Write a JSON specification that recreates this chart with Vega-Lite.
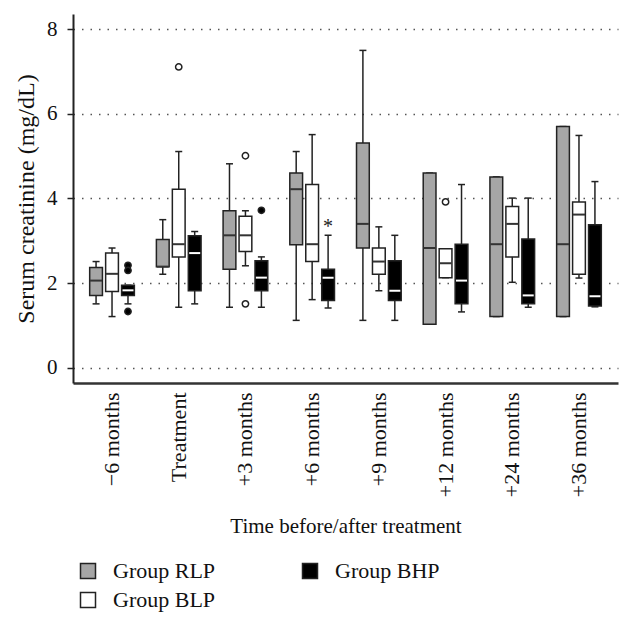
{
  "$schema": "https://vega.github.io/schema/vega-lite/v6.json",
  "width": 545,
  "height": 369,
  "autosize": "none",
  "padding": {"left": 73, "top": 14, "right": 14, "bottom": 242},
  "background": "white",
  "config": {
    "font": "Liberation Serif",
    "view": {"stroke": null}
  },
  "datasets": {
    "boxes": [
      {"time": "−6 months", "group": "Group RLP", "lower": 1.51, "q1": 1.71, "median": 2.06, "q3": 2.37, "upper": 2.51},
      {"time": "−6 months", "group": "Group BLP", "lower": 1.21, "q1": 1.80, "median": 2.22, "q3": 2.71, "upper": 2.83},
      {"time": "−6 months", "group": "Group BHP", "lower": 1.51, "q1": 1.71, "median": 1.83, "q3": 1.95, "upper": 1.95},
      {"time": "Treatment", "group": "Group RLP", "lower": 2.21, "q1": 2.39, "median": 2.39, "q3": 3.03, "upper": 3.50},
      {"time": "Treatment", "group": "Group BLP", "lower": 1.43, "q1": 2.62, "median": 2.92, "q3": 4.22, "upper": 5.11},
      {"time": "Treatment", "group": "Group BHP", "lower": 1.51, "q1": 1.82, "median": 2.71, "q3": 3.12, "upper": 3.22},
      {"time": "+3 months", "group": "Group RLP", "lower": 1.43, "q1": 2.33, "median": 3.13, "q3": 3.71, "upper": 4.82},
      {"time": "+3 months", "group": "Group BLP", "lower": 2.41, "q1": 2.75, "median": 3.13, "q3": 3.58, "upper": 3.71},
      {"time": "+3 months", "group": "Group BHP", "lower": 1.43, "q1": 1.82, "median": 2.13, "q3": 2.53, "upper": 2.62},
      {"time": "+6 months", "group": "Group RLP", "lower": 1.12, "q1": 2.91, "median": 4.22, "q3": 4.60, "upper": 5.11},
      {"time": "+6 months", "group": "Group BLP", "lower": 1.61, "q1": 2.51, "median": 2.92, "q3": 4.33, "upper": 5.51},
      {"time": "+6 months", "group": "Group BHP", "lower": 1.41, "q1": 1.59, "median": 2.13, "q3": 2.33, "upper": 3.13},
      {"time": "+9 months", "group": "Group RLP", "lower": 1.12, "q1": 2.83, "median": 3.40, "q3": 5.31, "upper": 7.50},
      {"time": "+9 months", "group": "Group BLP", "lower": 1.82, "q1": 2.21, "median": 2.51, "q3": 2.83, "upper": 3.33},
      {"time": "+9 months", "group": "Group BHP", "lower": 1.12, "q1": 1.59, "median": 1.82, "q3": 2.53, "upper": 3.13},
      {"time": "+12 months", "group": "Group RLP", "lower": 1.03, "q1": 1.03, "median": 2.83, "q3": 4.60, "upper": 4.60},
      {"time": "+12 months", "group": "Group BLP", "lower": 2.13, "q1": 2.13, "median": 2.47, "q3": 2.81, "upper": 2.81},
      {"time": "+12 months", "group": "Group BHP", "lower": 1.32, "q1": 1.51, "median": 2.06, "q3": 2.92, "upper": 4.33},
      {"time": "+24 months", "group": "Group RLP", "lower": 1.21, "q1": 1.21, "median": 2.92, "q3": 4.51, "upper": 4.51},
      {"time": "+24 months", "group": "Group BLP", "lower": 2.02, "q1": 2.62, "median": 3.40, "q3": 3.81, "upper": 4.01},
      {"time": "+24 months", "group": "Group BHP", "lower": 1.43, "q1": 1.51, "median": 1.71, "q3": 3.04, "upper": 4.01},
      {"time": "+36 months", "group": "Group RLP", "lower": 1.21, "q1": 1.21, "median": 2.92, "q3": 5.70, "upper": 5.70},
      {"time": "+36 months", "group": "Group BLP", "lower": 2.12, "q1": 2.21, "median": 3.62, "q3": 3.92, "upper": 5.49},
      {"time": "+36 months", "group": "Group BHP", "lower": 1.44, "q1": 1.46, "median": 1.69, "q3": 3.38, "upper": 4.40}
    ],
    "outliers": [
      {"time": "−6 months", "group": "Group BHP", "value": 2.42},
      {"time": "−6 months", "group": "Group BHP", "value": 2.30},
      {"time": "−6 months", "group": "Group BHP", "value": 1.33},
      {"time": "Treatment", "group": "Group BLP", "value": 7.11},
      {"time": "+3 months", "group": "Group BLP", "value": 5.01},
      {"time": "+3 months", "group": "Group BLP", "value": 1.51},
      {"time": "+3 months", "group": "Group BHP", "value": 3.72},
      {"time": "+12 months", "group": "Group BLP", "value": 3.92}
    ],
    "notes": [
      {"time": "+6 months", "group": "Group BHP", "value": 3.42, "label": "*"}
    ]
  },
  "encoding": {
    "x": {
      "field": "time",
      "type": "nominal",
      "sort": ["−6 months", "Treatment", "+3 months", "+6 months", "+9 months", "+12 months", "+24 months", "+36 months"],
      "scale": {
        "domain": ["−6 months", "Treatment", "+3 months", "+6 months", "+9 months", "+12 months", "+24 months", "+36 months"],
        "paddingInner": 0,
        "paddingOuter": 0.085
      },
      "axis": {
        "title": "Time before/after treatment",
        "labelAngle": -90,
        "labelAlign": "right",
        "labelBaseline": "middle",
        "labelFontSize": 22,
        "labelPadding": 9,
        "labelColor": "#111",
        "ticks": false,
        "tickSize": 0,
        "domainColor": "#333",
        "domainWidth": 2.5,
        "titleFontSize": 21,
        "titleFontWeight": "normal",
        "titleColor": "#111",
        "titlePadding": 19
      }
    },
    "xOffset": {
      "field": "group",
      "type": "nominal",
      "sort": ["Group RLP", "Group BLP", "Group BHP"],
      "scale": {
        "domain": ["Group RLP", "Group BLP", "Group BHP"],
        "paddingInner": 0.2,
        "paddingOuter": 0.69
      }
    }
  },
  "layer": [
    {
      "data": {"name": "boxes"},
      "mark": {"type": "rule", "color": "#222", "strokeWidth": 1.5},
      "encoding": {
        "y": {
          "field": "lower",
          "type": "quantitative",
          "scale": {"domain": [-0.36, 8.36], "nice": false, "zero": false},
          "axis": {
            "title": "Serum creatinine (mg/dL)",
            "values": [0, 2, 4, 6, 8],
            "grid": true,
            "gridDash": [1.5, 7],
            "gridColor": "#555",
            "gridWidth": 1.3,
            "domainColor": "#222",
            "domainWidth": 2,
            "tickColor": "#222",
            "tickSize": 6,
            "tickWidth": 1.5,
            "labelFontSize": 21,
            "labelPadding": 10,
            "labelColor": "#111",
            "titleFontSize": 24,
            "titleFontWeight": "normal",
            "titleColor": "#111",
            "titlePadding": 8
          }
        },
        "y2": {"field": "upper"}
      }
    },
    {
      "data": {"name": "boxes"},
      "mark": {"type": "tick", "color": "#222", "size": 7, "thickness": 1.5, "opacity": 1},
      "encoding": {"y": {"field": "upper", "type": "quantitative"}}
    },
    {
      "data": {"name": "boxes"},
      "mark": {"type": "tick", "color": "#222", "size": 7, "thickness": 1.5, "opacity": 1},
      "encoding": {"y": {"field": "lower", "type": "quantitative"}}
    },
    {
      "data": {"name": "boxes"},
      "mark": {"type": "bar", "stroke": "#222", "strokeWidth": 1.5, "opacity": 1},
      "encoding": {
        "y": {"field": "q3", "type": "quantitative"},
        "y2": {"field": "q1"},
        "fill": {
          "field": "group",
          "type": "nominal",
          "scale": {
            "domain": ["Group RLP", "Group BLP", "Group BHP"],
            "range": ["#a6a6a6", "#ffffff", "#000000"]
          },
          "legend": {
            "title": null,
            "orient": "none",
            "legendX": 4,
            "legendY": 546,
            "columns": 2,
            "columnPadding": 83,
            "rowPadding": 7,
            "symbolType": "square",
            "symbolSize": 225,
            "symbolStrokeColor": "#222",
            "symbolStrokeWidth": 1.5,
            "symbolOpacity": 1,
            "labelFontSize": 22,
            "labelColor": "#111",
            "labelOffset": 14,
            "labelLimit": 300
          }
        }
      }
    },
    {
      "data": {"name": "boxes"},
      "transform": [{"filter": "datum.group !== 'Group BHP'"}],
      "mark": {"type": "tick", "color": "#333", "size": 12, "thickness": 2, "opacity": 1},
      "encoding": {"y": {"field": "median", "type": "quantitative"}}
    },
    {
      "data": {"name": "boxes"},
      "transform": [{"filter": "datum.group === 'Group BHP'"}],
      "mark": {"type": "tick", "color": "#ffffff", "size": 11, "thickness": 2, "opacity": 1},
      "encoding": {"y": {"field": "median", "type": "quantitative"}}
    },
    {
      "data": {"name": "outliers"},
      "mark": {"type": "point", "shape": "circle", "filled": true, "stroke": "#222", "strokeWidth": 1.5, "size": 40, "opacity": 1},
      "encoding": {
        "y": {"field": "value", "type": "quantitative"},
        "fill": {"field": "group", "type": "nominal"}
      }
    },
    {
      "data": {"name": "notes"},
      "mark": {"type": "text", "fontSize": 20, "color": "#222", "baseline": "middle", "dy": 4},
      "encoding": {
        "y": {"field": "value", "type": "quantitative"},
        "text": {"field": "label", "type": "nominal"}
      }
    }
  ]
}
